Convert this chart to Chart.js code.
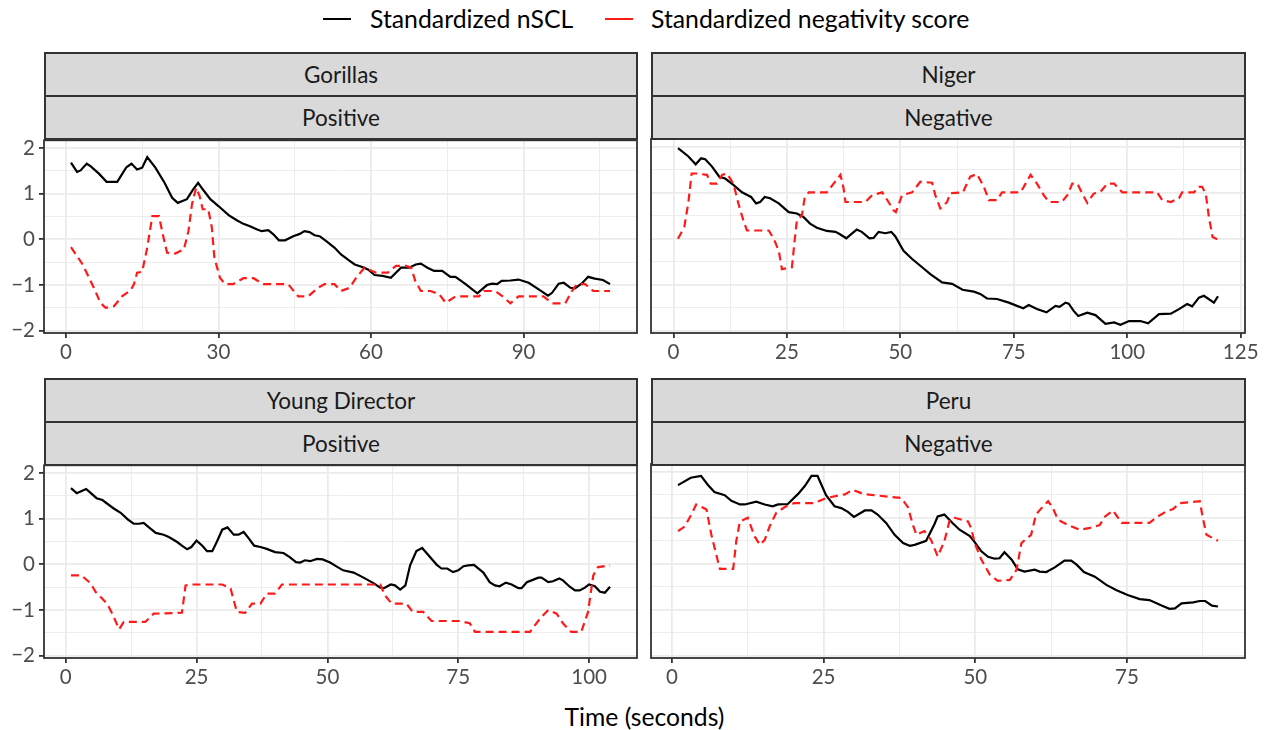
<!DOCTYPE html>
<html>
<head>
<meta charset="utf-8">
<script src="https://cdn.jsdelivr.net/npm/chart.js@4.4.1/dist/chart.umd.min.js"></script>
<style>
  body { margin: 0; width: 1269px; height: 730px; background: #fff; position: relative; overflow: hidden; font-family: Lato, sans-serif; }
  .panel { position: absolute; }
  .strip { position: absolute; box-sizing: border-box; height: 45px; border: 2px solid #333; background: #d9d9d9; color: #1a1a1a; font-size: 22.5px; line-height: 41px; text-align: center; }
  .key { position: absolute; top: 18px; width: 28px; height: 2.2px; }
  .ltext { position: absolute; top: 4px; font-size: 24.8px; line-height: 30px; color: #000; white-space: nowrap; }
  .xtitle { position: absolute; left: 44px; width: 1201px; top: 702px; text-align: center; font-size: 24.7px; line-height: 30px; color: #000; }
</style>
</head>
<body>
<div class="panel" style="left:0;top:124px;width:645px;height:245px"><canvas id="c1"></canvas></div>
<div class="panel" style="left:646px;top:124px;width:623px;height:245px"><canvas id="c2"></canvas></div>
<div class="panel" style="left:0;top:449px;width:645px;height:245px"><canvas id="c3"></canvas></div>
<div class="panel" style="left:646px;top:449px;width:623px;height:245px"><canvas id="c4"></canvas></div>

<div class="key" style="left:323px;background:#000"></div>
<div class="ltext" style="left:370px">Standardized nSCL</div>
<div class="key" style="left:605px;background:#ff1a1a"></div>
<div class="ltext" style="left:651px">Standardized negativity score</div>

<div class="strip" style="left:44px;top:52px;width:594px">Gorillas</div>
<div class="strip" style="left:44px;top:95px;width:594px">Positive</div>
<div class="strip" style="left:651px;top:52px;width:595px">Niger</div>
<div class="strip" style="left:651px;top:95px;width:595px">Negative</div>
<div class="strip" style="left:44px;top:378px;width:594px">Young Director</div>
<div class="strip" style="left:44px;top:421px;width:594px">Positive</div>
<div class="strip" style="left:651px;top:378px;width:595px">Peru</div>
<div class="strip" style="left:651px;top:421px;width:595px">Negative</div>

<div class="xtitle">Time (seconds)</div>

<script>
// [time, value] pairs
const gorillasNscl = [[1,1.68],[2.2,1.48],[2.9,1.51],[4.1,1.66],[4.9,1.60],[6.5,1.44],[8,1.26],[10.1,1.26],[11.9,1.58],[12.9,1.66],[14,1.53],[15,1.57],[16,1.80],[17.6,1.57],[19.4,1.24],[20.9,0.91],[22,0.80],[23.8,0.88],[25,1.09],[26,1.24],[27.1,1.07],[28.4,0.88],[30,0.73],[32,0.53],[33.6,0.42],[34.9,0.34],[36.2,0.29],[37.5,0.22],[38.5,0.18],[39.8,0.20],[40.8,0.11],[41.9,-0.02],[43.1,-0.02],[44.7,0.07],[46,0.12],[46.9,0.18],[47.9,0.16],[48.9,0.09],[49.9,0.07],[51.2,-0.04],[52.8,-0.18],[54.1,-0.33],[55.8,-0.47],[56.8,-0.55],[58.4,-0.61],[59.4,-0.66],[60.7,-0.78],[62.3,-0.80],[63.9,-0.84],[65.9,-0.62],[67.5,-0.62],[68.8,-0.55],[69.8,-0.53],[71.1,-0.62],[72.4,-0.69],[74,-0.69],[75.6,-0.82],[76.6,-0.82],[78.6,-0.98],[80.9,-1.18],[82.8,-1.00],[83.8,-0.97],[84.8,-0.98],[85.7,-0.91],[87.4,-0.90],[89,-0.88],[91,-0.95],[92.9,-1.09],[94.8,-1.23],[95.6,-1.17],[96.9,-0.97],[97.9,-0.95],[99.2,-1.06],[100.1,-1.07],[101.4,-0.97],[102.7,-0.82],[104,-0.86],[105.6,-0.89],[107,-0.98]];
const gorillasNeg = [[1,-0.17],[3.3,-0.55],[5.5,-1.06],[6.8,-1.39],[7.8,-1.50],[9.5,-1.46],[11.1,-1.24],[12.7,-1.12],[13.4,-0.98],[14,-0.73],[15,-0.71],[16,-0.18],[17,0.51],[18.3,0.51],[19.2,0.04],[19.9,-0.29],[21.5,-0.31],[23.2,-0.22],[24.1,0.18],[24.8,0.77],[25.6,1.13],[26.3,0.95],[26.9,0.66],[28,0.66],[28.7,0.26],[29.2,-0.40],[30.3,-0.84],[31.3,-0.98],[32.9,-0.98],[34.9,-0.85],[36.9,-0.85],[38.8,-0.98],[43.7,-0.98],[45.7,-1.25],[47.6,-1.25],[49.6,-1.06],[50.9,-0.98],[52.8,-0.98],[54.1,-1.13],[55.8,-1.06],[57.1,-0.84],[58.7,-0.62],[61,-0.73],[63.3,-0.73],[64.9,-0.58],[66.9,-0.58],[67.9,-0.62],[68.7,-0.91],[69.8,-1.13],[71.7,-1.13],[73.4,-1.20],[74.7,-1.39],[76.6,-1.25],[81.2,-1.25],[82.2,-1.13],[84.4,-1.13],[85.8,-1.24],[87.4,-1.40],[89,-1.25],[93.9,-1.25],[95.6,-1.40],[98.2,-1.40],[99.5,-1.13],[100.5,-0.98],[102.1,-0.98],[103.7,-1.13],[107,-1.13]];

const nigerNscl = [[1,1.97],[3.3,1.79],[4.9,1.62],[6.1,1.75],[7,1.73],[8.5,1.57],[10.1,1.35],[11.4,1.31],[13.2,1.17],[15.1,1.01],[17.1,0.91],[18.2,0.77],[19.1,0.80],[20.1,0.91],[21.3,0.88],[23.2,0.77],[25.4,0.58],[27.2,0.55],[28.7,0.47],[30.1,0.33],[31.6,0.24],[33.8,0.17],[35.7,0.15],[36.5,0.11],[38.1,0.01],[39.3,0.11],[40.4,0.20],[41.5,0.15],[43.2,0.01],[44.1,0.02],[45.2,0.15],[46.7,0.12],[48,0.15],[48.9,0.05],[50.7,-0.26],[52.6,-0.44],[54.8,-0.62],[56.6,-0.77],[59.2,-0.95],[61.4,-0.98],[63.7,-1.11],[66.2,-1.15],[67.6,-1.20],[69.1,-1.30],[71.3,-1.31],[73.9,-1.39],[75.7,-1.46],[77.1,-1.51],[78.3,-1.44],[80.1,-1.53],[82.2,-1.60],[84.2,-1.46],[85.1,-1.48],[86.4,-1.39],[87.1,-1.41],[88.2,-1.57],[89.2,-1.68],[91.2,-1.61],[93,-1.66],[95.2,-1.85],[97.1,-1.82],[98.5,-1.87],[100.4,-1.79],[102.9,-1.79],[104.6,-1.84],[107,-1.64],[109.6,-1.63],[111.4,-1.53],[113.2,-1.42],[114.3,-1.47],[115.8,-1.28],[116.9,-1.24],[119.1,-1.39],[120,-1.25]];
const nigerNeg = [[1,0.00],[2.4,0.26],[3.3,0.80],[4,1.42],[5.1,1.42],[7.4,1.39],[8.2,1.20],[9.6,1.20],[10.7,1.39],[11.8,1.42],[13.2,1.20],[14.3,0.77],[15.4,0.40],[16.2,0.18],[21,0.18],[22.1,0.00],[23.2,-0.26],[23.9,-0.66],[26.1,-0.62],[26.7,-0.04],[27.2,0.40],[28.3,0.51],[28.9,0.88],[29.8,1.01],[33.8,1.01],[35.3,1.20],[36.8,1.39],[37.5,1.09],[37.9,0.80],[42.3,0.80],[43.8,0.95],[46,1.01],[46.7,0.91],[48.5,0.62],[49,0.58],[50.4,0.95],[52.6,1.01],[54.4,1.24],[57,1.22],[57.7,0.95],[58.8,0.66],[60.3,0.80],[61,0.99],[63.8,1.01],[65.4,1.35],[66.9,1.41],[68.4,1.13],[69.5,0.84],[71.3,0.84],[72.4,1.01],[76.5,1.01],[77.6,1.20],[78.7,1.39],[80.1,1.20],[81.6,0.95],[82.7,0.80],[85.6,0.80],[86.8,0.95],[87.9,1.20],[89,1.20],[90.1,0.98],[91.2,0.78],[92.6,0.98],[94.1,1.02],[95.6,1.20],[97.1,1.20],[98.9,1.01],[106.6,1.01],[107.7,0.84],[109.6,0.80],[111.4,0.88],[112.1,1.01],[114.7,1.01],[115.8,1.13],[116.5,1.13],[117.3,0.98],[118,0.47],[118.8,0.04],[120,-0.02]];

const directorNscl = [[1,1.67],[2.1,1.56],[3.9,1.65],[4.8,1.56],[5.9,1.45],[7,1.41],[9.1,1.23],[10.5,1.13],[11.9,0.98],[13,0.89],[14,0.89],[14.9,0.91],[15.9,0.81],[17.2,0.69],[18.7,0.65],[19.7,0.60],[21.3,0.49],[22.2,0.41],[23.2,0.33],[24,0.38],[25,0.52],[26.1,0.41],[27,0.29],[28,0.29],[28.9,0.50],[29.9,0.76],[30.9,0.81],[32.1,0.65],[33,0.65],[34,0.71],[34.9,0.58],[36,0.41],[37.2,0.38],[38.4,0.34],[40,0.27],[41.6,0.25],[42.8,0.16],[44,0.05],[44.8,0.04],[45.7,0.09],[46.7,0.07],[48,0.12],[49.1,0.11],[50.5,0.04],[51.8,-0.05],[53,-0.13],[55,-0.18],[56.9,-0.29],[58.8,-0.41],[60.1,-0.51],[60.8,-0.52],[62.1,-0.44],[62.9,-0.46],[63.9,-0.55],[64.9,-0.46],[65.8,-0.02],[67,0.29],[68.1,0.36],[69.6,0.16],[70.9,-0.01],[71.8,-0.09],[72.9,-0.09],[74,-0.17],[75,-0.13],[76,-0.04],[76.9,-0.02],[78,-0.01],[79.8,-0.18],[81,-0.39],[82,-0.46],[82.9,-0.48],[84.1,-0.40],[85.2,-0.44],[86.5,-0.52],[87.1,-0.52],[88.1,-0.39],[89,-0.35],[90.3,-0.29],[90.9,-0.29],[92.2,-0.39],[93.1,-0.37],[94.3,-0.31],[95,-0.35],[96.3,-0.49],[97.3,-0.57],[98.2,-0.57],[99.2,-0.51],[100,-0.44],[101.1,-0.48],[102.1,-0.60],[103,-0.62],[104,-0.49]];
const directorNeg = [[1,-0.24],[3,-0.24],[4.8,-0.42],[5.7,-0.60],[7.9,-0.86],[8.9,-1.08],[10.2,-1.42],[11.1,-1.26],[15.2,-1.26],[16.8,-1.08],[22.2,-1.06],[22.9,-0.46],[24.1,-0.44],[29.9,-0.44],[31.5,-0.53],[32.7,-1.04],[34.3,-1.06],[35.6,-0.86],[37.2,-0.86],[38.4,-0.64],[40,-0.64],[41.3,-0.44],[60.1,-0.44],[61,-0.68],[62.3,-0.86],[65.1,-0.86],[66.3,-1.04],[68.3,-1.04],[69.9,-1.24],[75.3,-1.24],[77.2,-1.29],[78.2,-1.48],[88.7,-1.48],[90.6,-1.19],[92.2,-1.00],[93.8,-1.08],[95,-1.29],[96.6,-1.48],[98.5,-1.48],[99.8,-1.04],[100.8,-0.24],[101.7,-0.06],[104,-0.02]];

const peruNscl = [[1,1.71],[3.1,1.87],[4.8,1.91],[5.9,1.72],[7,1.56],[8.7,1.49],[9.8,1.37],[11.2,1.29],[12,1.29],[13.9,1.35],[15.3,1.29],[16.6,1.25],[17.5,1.29],[19.1,1.30],[20.8,1.52],[21.9,1.69],[23,1.91],[24,1.91],[25.4,1.49],[26.8,1.25],[27.9,1.21],[29,1.13],[30,1.02],[31.8,1.16],[32.9,1.16],[33.9,1.07],[35.3,0.89],[36.7,0.63],[38.1,0.45],[39.2,0.39],[40,0.41],[41.9,0.50],[43.3,0.87],[43.8,1.03],[44.9,1.07],[46.2,0.89],[47.4,0.74],[49.1,0.60],[49.9,0.47],[51,0.27],[52.1,0.15],[53.2,0.11],[54,0.12],[54.8,0.25],[56,0.09],[57,-0.12],[58.1,-0.17],[59.8,-0.13],[60.6,-0.17],[61.7,-0.18],[63.1,-0.08],[64.7,0.07],[65.8,0.07],[66.7,-0.02],[67.9,-0.18],[69.7,-0.28],[71.6,-0.46],[73.2,-0.57],[75.1,-0.68],[77.1,-0.77],[78.7,-0.79],[80.7,-0.91],[82,-0.98],[82.9,-0.97],[84,-0.86],[85.9,-0.84],[87,-0.81],[87.9,-0.81],[89,-0.91],[90,-0.93]];
const peruNeg = [[1,0.71],[2.1,0.81],[3.2,1.07],[4,1.29],[5.7,1.18],[6.5,0.63],[7.3,0.20],[7.9,-0.11],[10.1,-0.11],[10.6,0.49],[11.2,0.92],[12.5,1.00],[13.6,0.60],[14.5,0.41],[15.3,0.52],[16.1,0.81],[17.2,1.11],[18.8,1.25],[20.2,1.32],[23.5,1.32],[25.4,1.43],[28.5,1.51],[29.8,1.61],[31.5,1.52],[33.4,1.49],[37.8,1.43],[38.9,1.23],[39.7,0.85],[40.3,0.63],[41.6,0.71],[42.7,0.52],[43.8,0.16],[44.9,0.49],[45.8,0.96],[46.6,1.00],[48.8,0.92],[49.3,0.78],[49.9,0.45],[51,0.09],[52.4,-0.24],[53.7,-0.37],[55.7,-0.35],[56.8,-0.13],[57.6,0.45],[59.2,0.63],[60,1.07],[60.9,1.21],[62,1.36],[62.8,1.21],[63.6,0.96],[65.2,0.85],[67.2,0.74],[68.9,0.78],[70.5,0.84],[71.4,1.03],[72.7,1.16],[74.1,0.89],[78.7,0.89],[80.1,1.03],[81.5,1.14],[82.6,1.19],[83.7,1.32],[87,1.36],[87.5,1.00],[88.1,0.63],[90,0.50]];

// tick labels
const yTicks = [-2, -1, 0, 1, 2];
const gorillasTicks = [0, 30, 60, 90];
const nigerTicks = [0, 25, 50, 75, 100, 125];
const directorTicks = [0, 25, 50, 75, 100];
const peruTicks = [0, 25, 50, 75];

const yMin = -2.05, yMax = 2.17;

Chart.defaults.font.family = 'Lato, sans-serif';
Chart.defaults.animation = false;

const panelBorder = {
  id: 'panelBorder',
  afterDraw(chart) {
    const { ctx, chartArea: a } = chart;
    ctx.save();
    ctx.strokeStyle = '#333333';
    ctx.lineWidth = 1.8;
    ctx.strokeRect(a.left, a.top, a.right - a.left, a.bottom - a.top);
    ctx.restore();
  }
};

// majors plus the halfway minors that ggplot draws
const withMinor = (major, lo, hi) => {
  const step = major[1] - major[0];
  const all = [];
  major.forEach(v => { all.push(v - step / 2, v); });
  all.push(major[major.length - 1] + step / 2);
  return all.filter(v => v >= lo && v <= hi);
};

const fmt = v => (v < 0 ? '\u2212' + Math.abs(v) : String(v));

function makePanel(id, nscl, neg, nPts, xMajor, leftAxis) {
  const pad = (nPts - 1) * 0.05;
  const xMin = 1 - pad, xMax = nPts + pad;
  const xAll = withMinor(xMajor, xMin, xMax);
  const yAll = withMinor(yTicks, yMin, yMax);
  const isMajorX = v => xMajor.includes(v);
  const isMajorY = v => yTicks.includes(v);

  new Chart(document.getElementById(id), {
    type: 'line',
    data: {
      datasets: [
        { label: 'Standardized nSCL', data: nscl.map(p => ({ x: p[0], y: p[1] })),
          borderColor: '#000000', borderWidth: 2.2, pointRadius: 0, tension: 0, order: 1 },
        { label: 'Standardized negativity score', data: neg.map(p => ({ x: p[0], y: p[1] })),
          borderColor: '#ff1a1a', borderWidth: 2.2, borderDash: [8, 5], pointRadius: 0, tension: 0, order: 0 }
      ]
    },
    options: {
      responsive: true,
      maintainAspectRatio: false,
      layout: { padding: { top: 15, right: leftAxis ? 8 : 24, left: 0, bottom: 0 } },
      plugins: { legend: { display: false }, tooltip: { enabled: false } },
      scales: {
        x: {
          type: 'linear', min: xMin, max: xMax,
          afterBuildTicks: s => { s.ticks = xAll.map(v => ({ value: v })); },
          afterFit: s => { s.height = 36; },
          border: { display: false },
          grid: {
            color: '#ebebeb',
            lineWidth: c => (c.tick && isMajorX(c.tick.value) ? 1.8 : 0.9),
            tickColor: c => (c.tick && isMajorX(c.tick.value) ? '#333333' : 'rgba(0,0,0,0)'),
            tickLength: 5, tickWidth: 1.8
          },
          ticks: {
            autoSkip: false, maxRotation: 0, padding: 2, color: '#4d4d4d', font: { size: 20.5 },
            callback: v => (isMajorX(v) ? fmt(v) : '')
          }
        },
        y: {
          type: 'linear', min: yMin, max: yMax,
          afterBuildTicks: s => { s.ticks = yAll.map(v => ({ value: v })); },
          afterFit: s => { s.width = leftAxis ? 44 : 5; },
          border: { display: false },
          grid: {
            color: '#ebebeb',
            lineWidth: c => (c.tick && isMajorY(c.tick.value) ? 1.8 : 0.9),
            drawTicks: leftAxis,
            tickColor: c => (c.tick && isMajorY(c.tick.value) ? '#333333' : 'rgba(0,0,0,0)'),
            tickLength: 5, tickWidth: 1.8
          },
          ticks: {
            display: leftAxis, autoSkip: false, padding: 4, color: '#4d4d4d', font: { size: 20.5 },
            callback: v => (isMajorY(v) ? fmt(v) : '')
          }
        }
      }
    },
    plugins: [panelBorder]
  });
}

makePanel('c1', gorillasNscl, gorillasNeg, 107, gorillasTicks, true);
makePanel('c2', nigerNscl, nigerNeg, 120, nigerTicks, false);
makePanel('c3', directorNscl, directorNeg, 104, directorTicks, true);
makePanel('c4', peruNscl, peruNeg, 90, peruTicks, false);
</script>
</body>
</html>
